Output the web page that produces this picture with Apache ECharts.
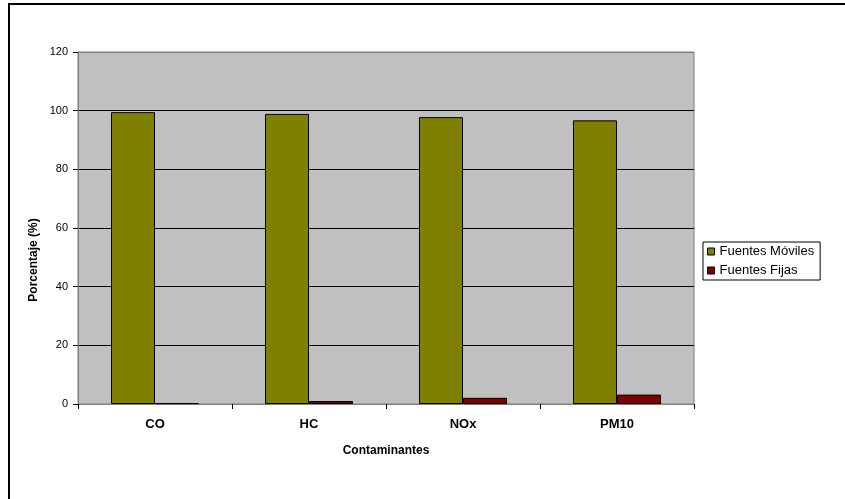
<!DOCTYPE html>
<html>
<head>
<meta charset="utf-8">
<title>Contaminantes por tipo de fuente</title>
<script src="https://cdn.jsdelivr.net/npm/echarts@6/dist/echarts.min.js"></script>
<style>
  html, body { margin: 0; padding: 0; background: #ffffff; }
  #chart { width: 845px; height: 499px; }
</style>
</head>
<body>
<div id="chart"></div>
<script>
// Pollutant categories and share of emissions (%) per source type
const categories = ['CO', 'HC', 'NOx', 'PM10'];
const fuentesMoviles = [99.5, 98.9, 97.8, 96.7];
const fuentesFijas = [0.3, 1.0, 2.1, 3.2];

const FONT = '"Liberation Sans", Arial, sans-serif';

const chart = echarts.init(document.getElementById('chart'), null, { renderer: 'canvas' });

chart.setOption({
  backgroundColor: '#ffffff',
  animation: false,
  textStyle: { fontFamily: FONT },
  grid: {
    left: 78,
    right: 151,
    top: 52,
    bottom: 95,
    show: true,
    backgroundColor: '#C0C0C0',
    borderColor: '#808080',
    borderWidth: 1
  },
  legend: {
    orient: 'vertical',
    left: 703,
    top: 242,
    padding: [2, 6, 2, 4],
    itemGap: 4,
    itemWidth: 7,
    itemHeight: 7,
    borderColor: '#000000',
    borderWidth: 1,
    backgroundColor: '#ffffff',
    icon: 'rect',
    itemStyle: { borderColor: '#000000', borderWidth: 1 },
    textStyle: { fontFamily: FONT, fontSize: 13, color: '#000000', lineHeight: 15 },
    data: ['Fuentes Móviles', 'Fuentes Fijas']
  },
  xAxis: {
    type: 'category',
    data: categories,
    name: 'Contaminantes',
    nameLocation: 'middle',
    nameGap: 41,
    nameTextStyle: { fontFamily: FONT, fontSize: 12, fontWeight: 'bold', color: '#000000' },
    axisLine: { show: true, lineStyle: { color: '#808080', width: 1 } },
    axisTick: { show: true, length: 5, lineStyle: { color: '#000000' } },
    axisLabel: { margin: 14, fontFamily: FONT, fontSize: 13, fontWeight: 'bold', color: '#000000' },
    splitLine: { show: false }
  },
  yAxis: {
    type: 'value',
    min: 0,
    max: 120,
    interval: 20,
    axisLine: { show: true, lineStyle: { color: '#808080', width: 1 } },
    axisTick: { show: true, length: 5, lineStyle: { color: '#000000' } },
    axisLabel: { margin: 10, fontFamily: FONT, fontSize: 11, color: '#000000' },
    splitLine: {
      show: true,
      // bottom and top lines blend into the gray plot frame
      lineStyle: {
        color: ['#808080', '#000000', '#000000', '#000000', '#000000', '#000000', '#808080'],
        width: 1
      }
    }
  },
  series: [
    {
      name: 'Fuentes Móviles',
      type: 'bar',
      data: fuentesMoviles,
      barWidth: 44,
      barGap: '0%',
      itemStyle: { color: '#808000', borderColor: '#000000', borderWidth: 1 }
    },
    {
      name: 'Fuentes Fijas',
      type: 'bar',
      data: fuentesFijas,
      barWidth: 44,
      barGap: '0%',
      itemStyle: { color: '#800000', borderColor: '#000000', borderWidth: 1 }
    }
  ],
  graphic: [
    // Y axis title
    {
      type: 'text',
      x: 34,
      y: 260,
      rotation: Math.PI / 2,
      style: {
        text: 'Porcentaje (%)',
        fontFamily: FONT,
        fontSize: 12,
        fontWeight: 'bold',
        fill: '#000000',
        align: 'center',
        verticalAlign: 'middle'
      }
    },
    // Chart area frame (top and left edges)
    {
      type: 'polyline',
      shape: { points: [[9, 499], [9, 4], [845, 4]] },
      style: { stroke: '#000000', lineWidth: 2, fill: null }
    }
  ]
});
</script>
</body>
</html>
